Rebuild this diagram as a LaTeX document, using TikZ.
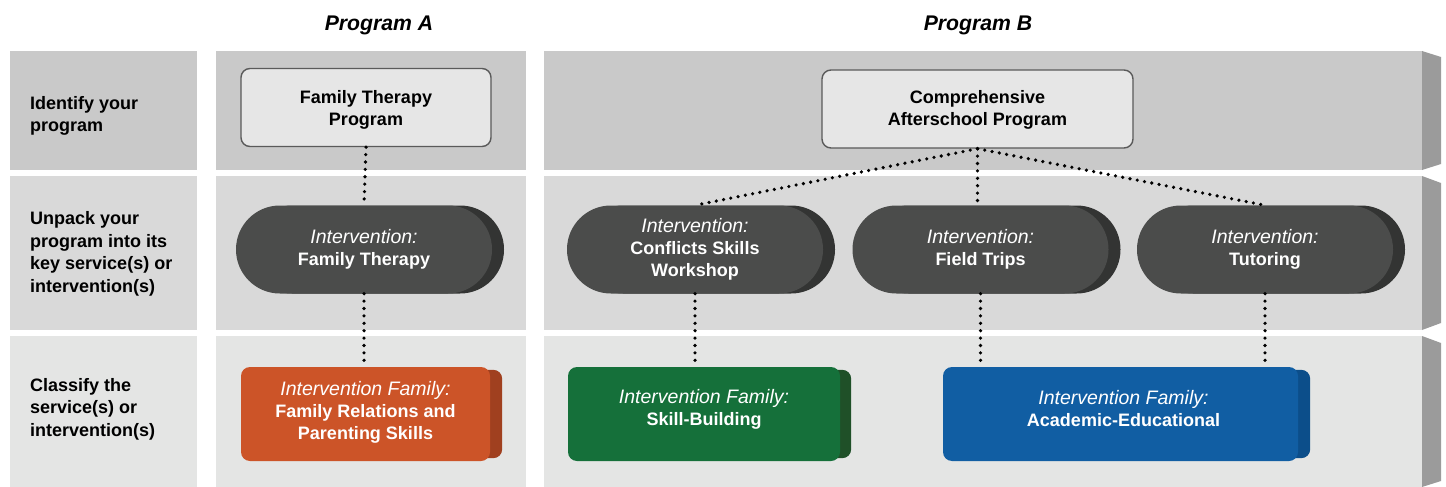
\documentclass[tikz,border=0pt]{standalone}
\usepackage{fontspec}
\setmainfont{Liberation Sans}
\usetikzlibrary{shadows,calc}
\definecolor{rowone}{HTML}{C9C9C9}
\definecolor{rowtwo}{HTML}{D9D9D9}
\definecolor{rowthree}{HTML}{E4E5E4}
\definecolor{sidegray}{HTML}{9B9B9B}
\definecolor{boxfill}{HTML}{E6E6E6}
\definecolor{boxline}{HTML}{5A5A5A}
\definecolor{pillfill}{HTML}{4B4C4B}
\definecolor{pillshade}{HTML}{333433}
\definecolor{orgmain}{HTML}{CC5428}
\definecolor{orgside}{HTML}{A0401F}
\definecolor{grnmain}{HTML}{15703A}
\definecolor{grnside}{HTML}{1F5028}
\definecolor{blumain}{HTML}{115EA3}
\definecolor{bluside}{HTML}{0C4E8A}
\pgfdeclarelayer{bg}
\pgfdeclarelayer{mid}
\pgfsetlayers{bg,mid,main}
\begin{document}
\begin{tikzpicture}[x=1pt,y=-1pt,
  lbl/.style={anchor=west, align=left, font=\fontsize{18}{22.5}\selectfont\bfseries, text=black, inner sep=0pt},
  hdr/.style={font=\fontsize{21.2}{24}\selectfont\bfseries\itshape, text=black},
  progbox/.style={draw=boxline, line width=1.4pt, fill=boxfill, rounded corners=9pt, align=center,
    font=\fontsize{18}{22}\selectfont\bfseries, minimum height=78pt, text=black},
  progtext/.style={align=center, text=black, font=\fontsize{18}{22}\selectfont\bfseries},
  pill/.style={fill=pillfill, rounded corners=43.9pt, minimum width=256pt, minimum height=88pt,
    align=center, text=white, font=\fontsize{18}{22}\selectfont\bfseries,
    general shadow={fill=pillshade, shadow xshift=12pt}},
  famb/.style={rounded corners=9pt, minimum height=94pt, minimum width=#1},
  famtext/.style={align=center, text=white, font=\fontsize{18}{22}\selectfont\bfseries},
  sideface/.style={rounded corners=9pt},
  dots/.style={line width=3.6pt, dash pattern=on 0pt off 7.4pt, line cap=round, black}
]
\useasboundingbox (0,0) rectangle (1446,487);
\newcommand{\itl}[1]{{\fontsize{19.5}{22}\selectfont\mdseries\itshape #1}}

% rows
\begin{pgfonlayer}{bg}
\fill[rowone] (10,51) rectangle (197,170);
\fill[rowone] (216,51) rectangle (526,170);
\fill[rowone] (544,51) rectangle (1422,170);
\fill[sidegray] (1422,51) -- (1441,57) -- (1441,164) -- (1422,170) -- cycle;

\fill[rowtwo] (10,176) rectangle (197,330);
\fill[rowtwo] (216,176) rectangle (526,330);
\fill[rowtwo] (544,176) rectangle (1422,330);
\fill[sidegray] (1422,176) -- (1441,183) -- (1441,323) -- (1422,330) -- cycle;

\fill[rowthree] (10,336) rectangle (197,487);
\fill[rowthree] (216,336) rectangle (526,487);
\fill[rowthree] (544,336) rectangle (1422,487);
\fill[sidegray] (1422,336) -- (1441,343) -- (1441,481) -- (1422,487) -- cycle;
\end{pgfonlayer}

% headings
\node[hdr] (ha) at (379,25) {Program A};
\node[hdr] (hb) at (978,25) {Program B};

% row labels
\node[lbl] (l1) at (30,116) {Identify your\\program};
\node[lbl] (l2) at (30,254) {Unpack your\\program into its\\key service(s) or\\intervention(s)};
\node[lbl] (l3) at (30,409) {Classify the\\service(s) or\\intervention(s)};

% programs
\node[progbox, minimum width=250pt] (pa) at (366,107.5) {};
\node[progbox, minimum width=311pt] (pb) at (977.5,109) {};
\node[progtext] (pat) at ($(pa)+(0,2)$) {Family Therapy\\Program};
\node[progtext] (pbt) at ($(pb)+(0,1)$) {Comprehensive\\Afterschool Program};

% interventions
\node[pill] (ia) at (364,249.5) {\itl{Intervention:}\\Family Therapy};
\node[pill] (ic) at (695,249.5) {\itl{Intervention:}\\Conflicts Skills\\Workshop};
\node[pill] (ifd) at (980.5,249.5) {\itl{Intervention:}\\Field Trips};
\node[pill] (it) at (1265,249.5) {\itl{Intervention:}\\Tutoring};

% families
\node[famb=249pt, fill=orgmain] (fa) at (365.5,414) {};
\node[famb=272pt, fill=grnmain] (fg) at (704,414) {};
\node[famb=355pt, fill=blumain] (fb) at (1120.5,414) {};
\node[famtext] (ta) at ($(fa)+(0,-2)$) {\itl{Intervention Family:}\\Family Relations and\\Parenting Skills};
\node[famtext] (tg) at ($(fg)+(0,-5)$) {\itl{Intervention Family:}\\Skill-Building};
\node[famtext] (tb) at ($(fb)+(3,-5)$) {\itl{Intervention Family:}\\Academic-Educational};
\begin{pgfonlayer}{mid}
\fill[sideface, orgside] ($(fa.north west)+(12,3)$) rectangle ($(fa.south east)+(12,-3)$);
\fill[sideface, grnside] ($(fg.north west)+(11,3)$) rectangle ($(fg.south east)+(11,-3)$);
\fill[sideface, bluside] ($(fb.north west)+(12,3)$) rectangle ($(fb.south east)+(12,-3)$);
\end{pgfonlayer}

% connectors
\draw[dots] (pa.south) -- (ia.north);
\draw[dots] (ia.south) -- (fa.north -| ia.south);
\draw[dots] (pb.south) -- (ic.north);
\draw[dots] (pb.south) -- (ifd.north -| pb.south);
\draw[dots] (pb.south) -- (it.north);
\draw[dots] (ic.south) -- (fg.north -| ic.south);
\draw[dots] (ifd.south) -- (fb.north -| ifd.south);
\draw[dots] (it.south) -- (fb.north -| it.south);
\end{tikzpicture}
\end{document}
